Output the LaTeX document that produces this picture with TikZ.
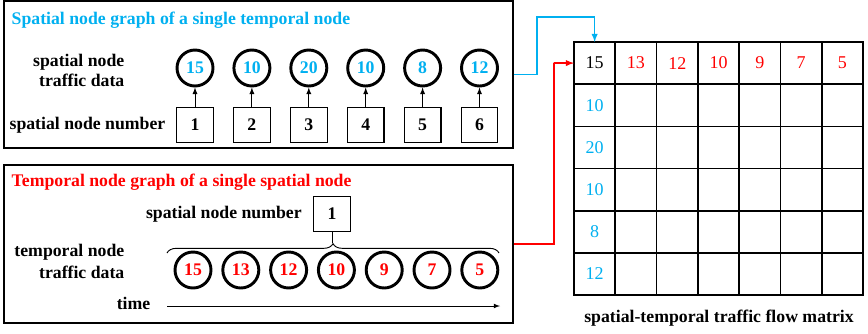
\documentclass[tikz,border=0pt]{standalone}
\usepackage{fontspec}
\setmainfont{Liberation Serif}
\usetikzlibrary{positioning, decorations.pathreplacing}
\definecolor{skyblue}{RGB}{0,176,240}
\definecolor{brightred}{RGB}{255,0,0}
\tikzset{
  lbl/.style={font=\bfseries\fontsize{13.3}{15}\selectfont},
  frame/.style={draw,rectangle,line width=1.1pt,inner sep=0pt,minimum width=381.75pt},
  data/.style={draw,circle,line width=2.2pt,minimum size=27pt,inner sep=0pt,font=\bfseries\fontsize{13.3}{15}\selectfont},
  numbox/.style={draw,rectangle,line width=0.9pt,minimum width=27.5pt,minimum height=26pt,inner sep=0pt,font=\bfseries\fontsize{13.3}{15}\selectfont},
  cell/.style={draw,rectangle,line width=1.2pt,minimum width=31pt,minimum height=31.6pt,inner sep=0pt,outer sep=0pt},
  celltext/.style={font=\fontsize{13.5}{15}\selectfont},
  link/.style={line width=1.1pt,-latex},
}

\begin{document}
\begin{tikzpicture}[x=0.75pt,y=-0.75pt]
\useasboundingbox (0,0) rectangle (868,333);

% spatial node graph
\node[frame,minimum height=110.25pt] (sbox) at (258.5,74.5) {};
\node[lbl,anchor=west,text=skyblue] (stitle) at (7,20) {Spatial node graph of a single temporal node};
\node[lbl,align=right,anchor=east] (sdata) at (129,70) {spatial node\\traffic data};
\node[lbl,anchor=east] (snum) at (170,125) {spatial node number};
\foreach \v [count=\i] in {15,10,20,10,8,12} {
  \node[data,text=skyblue] (sd\i) at ({195+56.9*(\i-1)},68) {\v};
  \node[numbox] (sn\i) at ({195+56.9*(\i-1)},125) {\i};
  \draw[-latex,line width=0.7pt] (sn\i) -- (sd\i);
}

% temporal node graph
\node[frame,minimum height=118.5pt] (tbox) at (258.5,244) {};
\node[lbl,anchor=west,text=brightred] (ttitle) at (7,182) {Temporal node graph of a single spatial node};
\node[numbox] (tn) at (332,214) {1};
\node[lbl,left=5pt of tn] (tnum) {spatial node number};
\node[lbl,align=right,anchor=east,font=\bfseries\fontsize{13.3}{16.5}\selectfont] (tdata) at (129,261) {temporal node\\traffic data};
\foreach \v [count=\i] in {15,13,12,10,9,7,5}
  \node[data,text=brightred] (td\i) at ({193+47.8*(\i-1)},270) {\v};
\draw[decorate,decoration={brace,amplitude=7pt},line width=0.7pt] (167,253) -- (499,253);
\coordinate (btip) at (332,243);
\draw[line width=0.7pt] (tn.south) -- (btip);
\node[lbl,anchor=east] (time) at (155,303) {time};
\coordinate (t0) at (167,306);
\coordinate (t1) at (500,306);
\draw[-latex,line width=0.6pt] (t0) -- (t1);

% matrix
\foreach \r in {1,...,6}
  \foreach \c in {1,...,7}
    \node[cell] (m\r\c) at ({574+41.3*(\c-0.5)},{42+42.17*(\r-0.5)}) {};
\node[celltext] at (m11) {15};
\foreach \v [count=\c from 2] in {13,12,10,9,7,5}
  \node[celltext,text=brightred] at (m1\c) {\v};
\foreach \v [count=\r from 2] in {10,20,10,8,12}
  \node[celltext,text=skyblue] at (m\r1) {\v};
\node[lbl] (mlabel) at (719,318) {spatial-temporal traffic flow matrix};

% connectors
\coordinate (bturn) at (537,17);
\coordinate (rturn) at (554,63);
\draw[link,skyblue] (sbox.east) -| (bturn) -| (m11.north);
\draw[link,brightred] (tbox.east) -| (rturn) |- (m11.west);
\end{tikzpicture}
\end{document}
